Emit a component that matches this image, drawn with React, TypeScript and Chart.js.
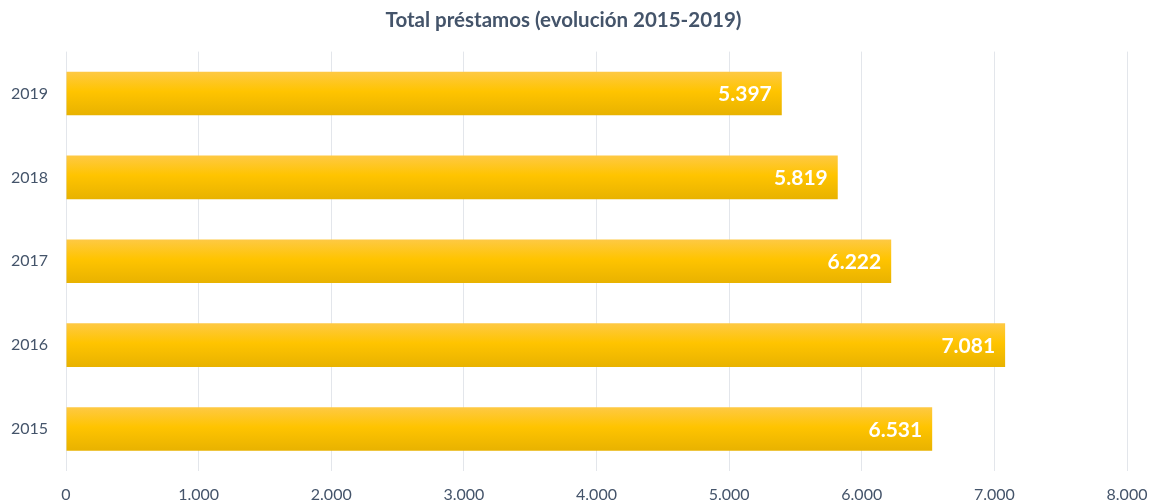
import React, { useEffect, useRef } from "react";
import { Chart, registerables } from "chart.js";

Chart.register(...registerables);

const categories = ["2019", "2018", "2017", "2016", "2015"];
const values = [5397, 5819, 6222, 7081, 6531];
const xTicks = [0, 1000, 2000, 3000, 4000, 5000, 6000, 7000, 8000];
const titleText = "Total préstamos (evolución 2015-2019)";

const FONT = "Lato, 'Open Sans', sans-serif";
const TEXT = "#44546a";

const fmt = (v: number) => v.toLocaleString("de-DE");

const BAR_PCT = 0.52;

const labelPlugin = {
  id: "barLabels",
  afterDatasetsDraw(chart: any) {
    const { ctx } = chart;
    const meta = chart.getDatasetMeta(0);
    ctx.save();
    ctx.fillStyle = "#ffffff";
    ctx.font = `bold 21px ${FONT}`;
    ctx.textAlign = "right";
    ctx.textBaseline = "middle";
    meta.data.forEach((bar: any, i: number) => {
      ctx.fillText(fmt(values[i]), bar.x - 10, bar.y + 1);
    });
    ctx.restore();
  },
};

export default function App() {
  const ref = useRef<HTMLCanvasElement>(null);
  useEffect(() => {
    if (!ref.current) return;
    const chart = new Chart(ref.current, {
      type: "bar",
      data: {
        labels: categories,
        datasets: [
          {
            data: values,
            barPercentage: BAR_PCT,
            categoryPercentage: 1,
            backgroundColor: (c: any) => {
              const ch = c.chart;
              const y = ch.scales?.y;
              if (!ch.chartArea || !y || c.dataIndex === undefined) return "#ffc400";
              const center = y.getPixelForValue(c.dataIndex);
              const half = (y.height / categories.length) * BAR_PCT / 2;
              const g = ch.ctx.createLinearGradient(0, center - half, 0, center + half);
              g.addColorStop(0, "#fec944");
              g.addColorStop(0.45, "#ffc400");
              g.addColorStop(1, "#e8b200");
              return g;
            },
            borderWidth: 0,
          },
        ],
      },
      options: {
        indexAxis: "y",
        animation: false,
        responsive: false,
        maintainAspectRatio: false,
        layout: { padding: { left: 0, right: 24, top: 0, bottom: 0 } },
        plugins: {
          legend: { display: false },
          tooltip: { enabled: false },
          title: {
            display: true,
            text: titleText,
            color: TEXT,
            font: { family: FONT, size: 20.5, weight: "bold" },
            padding: { top: 8, bottom: 19 },
          },
        },
        scales: {
          x: {
            min: 0,
            max: 8000,
            afterBuildTicks: (s: any) => {
              s.ticks = xTicks.map((v) => ({ value: v }));
            },
            afterFit: (s: any) => {
              s.height = 33;
              s.paddingLeft = 0;
              s.paddingRight = 0;
            },
            ticks: {
              color: TEXT,
              font: { family: FONT, size: 16 },
              padding: 14,
              callback: (v: any) => fmt(Number(v)),
              maxRotation: 0,
            },
            grid: { color: "#e3e6eb", drawTicks: false, lineWidth: 1 },
            border: { display: false },
          },
          y: {
            afterFit: (s: any) => {
              s.width = 66;
            },
            ticks: {
              color: TEXT,
              font: { family: FONT, size: 16 },
              padding: 18,
            },
            grid: { display: false, drawTicks: false },
            border: { display: false },
          },
        },
      },
      plugins: [labelPlugin],
    } as any);
    return () => chart.destroy();
  }, []);
  return (
    <div style={{ position: "fixed", left: 0, top: 0, width: 1151, height: 504, background: "#fff" }}>
      <canvas ref={ref} width={1151} height={504} style={{ width: 1151, height: 504 }} />
    </div>
  );
}
